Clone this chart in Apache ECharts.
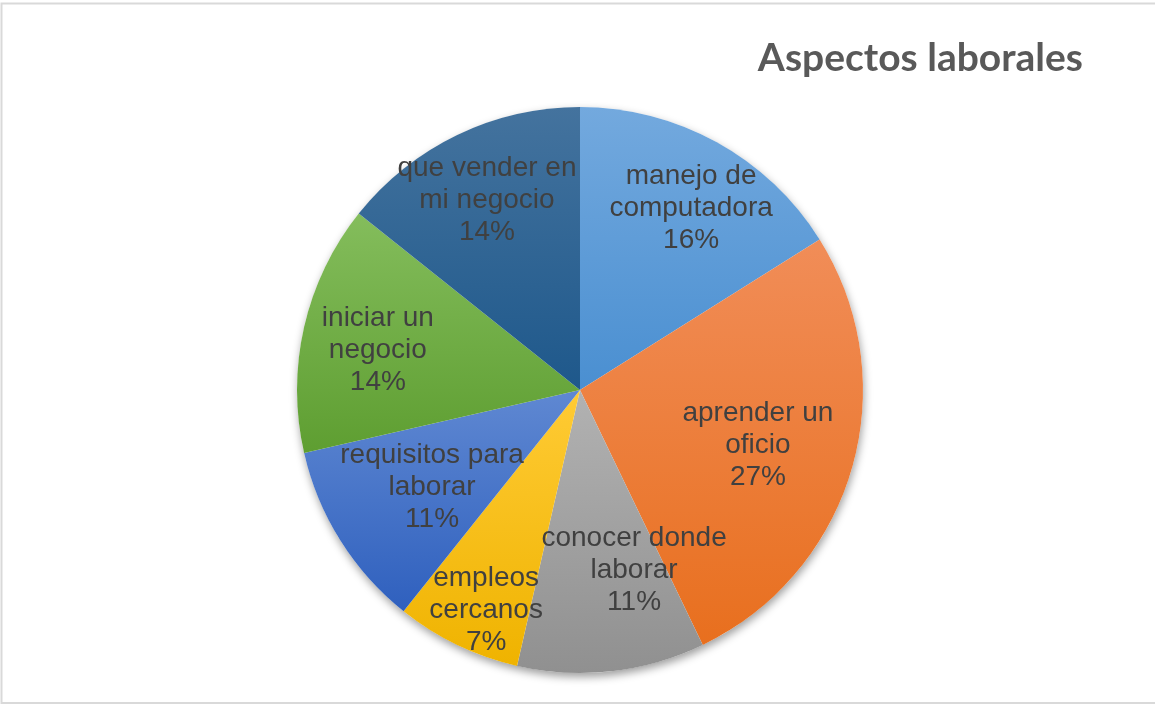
<!DOCTYPE html>
<html>
<head>
<meta charset="utf-8">
<script src="https://cdn.jsdelivr.net/npm/echarts@6/dist/echarts.min.js"></script>
<style>html,body{margin:0;padding:0;background:#fff}#c{width:1155px;height:705px}</style>
</head>
<body>
<div id="c"></div>
<script>
const titleText = 'Aspectos laborales';
const categories = ['manejo de\ncomputadora', 'aprender un\noficio', 'conocer donde\nlaborar', 'empleos\ncercanos', 'requisitos para\nlaborar', 'iniciar un\nnegocio', 'que vender en\nmi negocio'];
const values = [9, 15, 6, 4, 6, 8, 8];
const topColors = ['#73a9de', '#f18d58', '#b2b2b2', '#ffcb35', '#5f88d2', '#84bd5c', '#44739e'];
const bottomColors = ['#4a8fd1', '#e86f1e', '#909090', '#efb300', '#2f60be', '#5e9e31', '#1e588b'];
// label placement relative to sector geometry (ratio of radius, angle shift in degrees)
const labelRadiusRatio = [0.753, 0.658, 0.664, 0.845, 0.625, 0.728, 0.747];
const labelAngleShift = [2.5, 1.1, -10.3, -2.6, -1.1, -1.7, -0.4];

const CX = 580, CY = 390, R = 283;
const total = values.reduce((a, b) => a + b, 0);
const midAngles = [];
let acc = 0;
values.forEach(v => { midAngles.push((acc + v / 2) / total * 360); acc += v; });

const chart = echarts.init(document.getElementById('c'), null, {renderer: 'canvas'});
chart.setOption({
  backgroundColor: '#fff',
  animation: false,
  title: {
    text: titleText,
    right: 67,
    top: 34,
    textStyle: {fontFamily: 'Lato', fontWeight: 'bold', fontSize: 39, color: '#595959'}
  },
  graphic: [{
    type: 'rect',
    shape: {x: 1.5, y: 3.5, width: 1160, height: 699.5},
    style: {fill: 'none', stroke: '#d9d9d9', lineWidth: 2},
    silent: true,
    z: 100
  }],
  series: [
    {
      type: 'pie',
      silent: true,
      center: [CX, CY],
      radius: R,
      label: {show: false},
      labelLine: {show: false},
      itemStyle: {color: '#ffffff', shadowBlur: 9, shadowColor: 'rgba(0,0,0,0.38)', shadowOffsetX: 1, shadowOffsetY: 4},
      data: [{value: 1, name: 'bg'}],
      z: 1
    },
    {
      type: 'pie',
      center: [CX, CY],
      radius: R,
      startAngle: 90,
      clockwise: true,
      percentPrecision: 0,
      avoidLabelOverlap: false,
      label: {
        show: true,
        position: 'inside',
        formatter: '{b}\n{d}%',
        fontFamily: 'Liberation Sans, Arial, sans-serif',
        fontSize: 28,
        lineHeight: 32,
        color: '#404040',
        align: 'center'
      },
      labelLine: {show: false},
      labelLayout: function (p) {
        const i = p.dataIndex;
        const a = (midAngles[i] + labelAngleShift[i]) * Math.PI / 180;
        const rr = labelRadiusRatio[i] * R;
        return {x: CX + rr * Math.sin(a), y: CY - rr * Math.cos(a)};
      },
      itemStyle: {borderWidth: 0},
      data: categories.map((c, i) => ({
        name: c,
        value: values[i],
        itemStyle: {
          color: {type: 'linear', x: 0, y: 0, x2: 0, y2: 1, colorStops: [
            {offset: 0, color: topColors[i]}, {offset: 1, color: bottomColors[i]}
          ]}
        }
      })),
      z: 2
    }
  ]
});
</script>
</body>
</html>
